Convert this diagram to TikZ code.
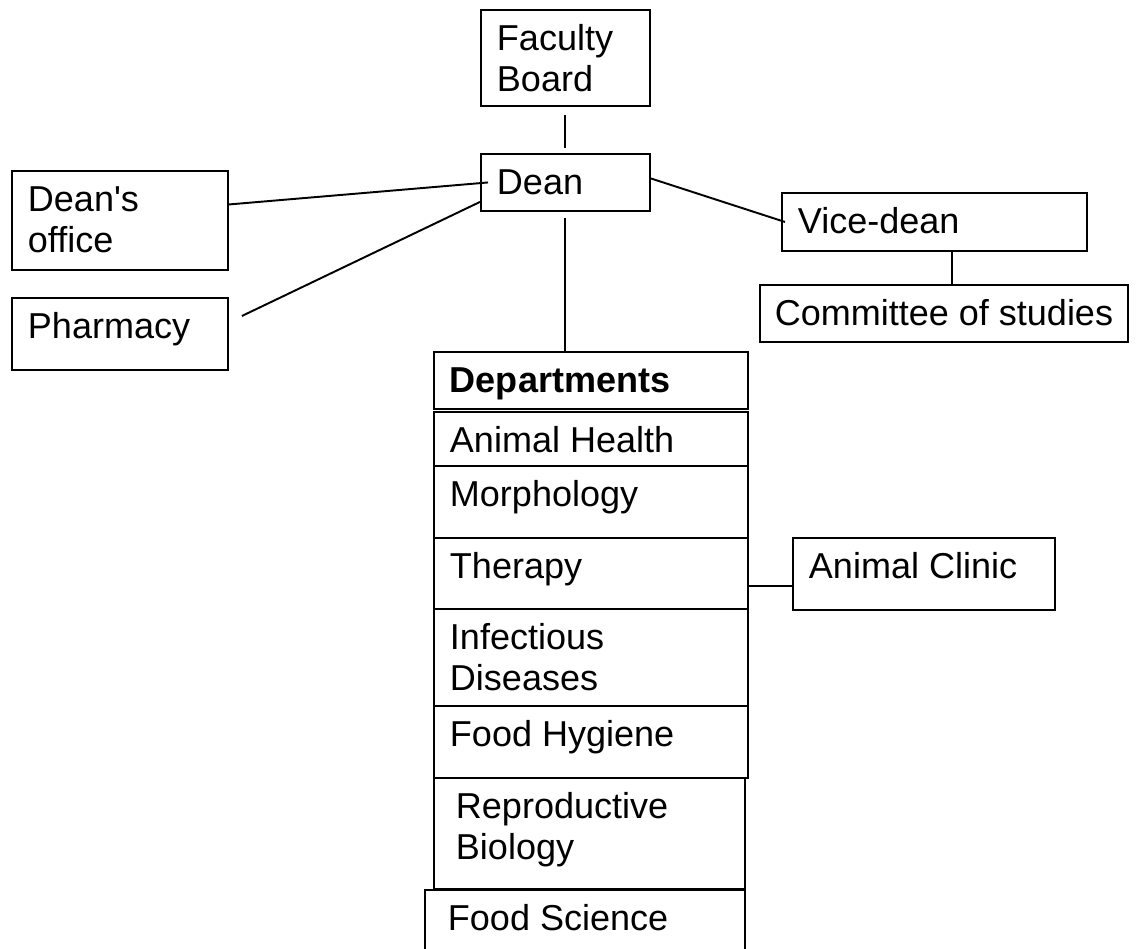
\documentclass[tikz,border=0pt]{standalone}
\usepackage{fontspec}
\setmainfont{Liberation Sans}
\newcommand{\apos}{\XeTeXglyph\the\XeTeXcharglyph"0027\relax}

\tikzset{
  box/.style={draw, line width=1.1pt, anchor=north west, align=flush left,
    inner xsep=0.32cm, inner ysep=0pt, text height=0.82cm,
    font=\fontsize{20.5}{22.8}\selectfont},
  link/.style={line width=1.1pt}
}

\begin{document}
\begin{tikzpicture}[x=0.02cm, y=-0.02cm]
    \useasboundingbox (0,0) rectangle (1139,949);
    % top of the chart
    \node[box, text width=2.74cm, text depth=1.10cm] (board) at (480,9) {Faculty\\Board};
    \node[box, text width=2.74cm, text depth=0.32cm] (dean) at (480,153) {Dean};
    \node[box, text width=3.68cm, text depth=1.16cm] (office) at (11,170) {Dean\apos s\\office};
    \node[box, text width=3.68cm, text depth=0.62cm] (pharmacy) at (11,297) {Pharmacy};
    \node[box, text width=5.46cm, text depth=0.34cm] (vicedean) at (781,192) {Vice-dean};
    \node[box, inner xsep=0pt, minimum width=7.36cm, text depth=0.32cm] (studies) at (759,284) {Committee of studies};
    % departments column
    \node[box, text width=5.64cm, text depth=0.32cm] (depts) at (433,351) {\textbf{Departments}};
    \node[box, text width=5.64cm, text depth=0.26cm] (health) at (433,411) {Animal Health};
    \node[box, text width=5.64cm, text depth=0.62cm] (morph) at (433,465) {Morphology};
    \node[box, text width=5.64cm, text depth=0.60cm] (therapy) at (433,537) {Therapy};
    \node[box, text width=5.64cm, text depth=1.12cm] (infect) at (433,608) {Infectious\\Diseases};
    \node[box, text width=5.64cm, text depth=0.62cm] (hygiene) at (433,705) {Food Hygiene};
    \node[box, inner xsep=0.44cm, text width=5.34cm, text depth=1.40cm] (repro) at (433,777) {Reproductive\\Biology};
    \node[box, inner xsep=0.46cm, text width=5.48cm, text depth=0.62cm] (foodsci) at (424,889) {Food Science};
    \node[box, text width=4.60cm, text depth=0.62cm] (clinic) at (792,537) {Animal Clinic};
    \coordinate (cliniclink) at ([yshift=-0.24cm]clinic.west);
    % connectors
    \draw[link, shorten <=0.16cm, shorten >=0.10cm] (board.south) -- (dean.north);
    \draw[link] ([yshift=-0.12cm]dean.south) -- (dean.south |- depts.north);
    \draw[link] ([yshift=0.32cm]office.east) -- ([xshift=0.16cm]dean.west);
    \draw[link] ([xshift=0.26cm,yshift=-0.38cm]pharmacy.north east) -- ([yshift=0.20cm]dean.south west);
    \draw[link] ([yshift=0.08cm]dean.east) -- ([xshift=0.08cm]vicedean.west);
    \draw[link] ([xshift=0.35cm]vicedean.south) -- ([xshift=0.35cm]vicedean.south |- studies.north);
    \draw[link] (cliniclink) -- (therapy.east |- cliniclink);
\end{tikzpicture}
\end{document}
